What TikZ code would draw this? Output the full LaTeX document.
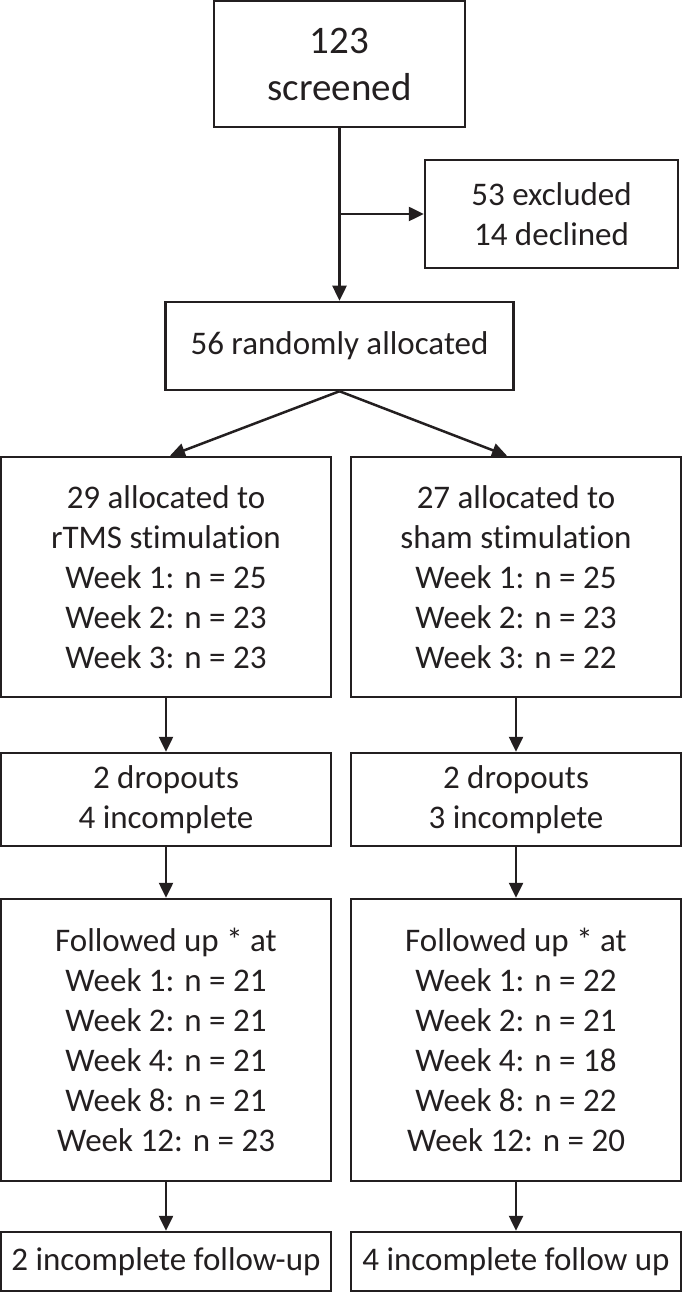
\documentclass[tikz,border=0pt]{standalone}
\usepackage{fontspec}
\setmainfont{Carlito}[Ligatures={NoCommon}]
\usetikzlibrary{positioning,arrows.meta}
\definecolor{ink}{HTML}{231F20}

\begin{document}
\begin{tikzpicture}[
x=0.5pt,y=-0.5pt,
box/.style={
  draw=ink,
  text=ink,
  line width=1.25pt,
  align=center,
  inner sep=0pt,
  font=\fontsize{16.5}{20}\selectfont
  },
big/.style={
  font=\fontsize{19.5}{23.5}\selectfont
  },
>={Triangle[length=7.5pt,width=7pt]}
]
\useasboundingbox (0,0) rectangle (685,1293);

% screening
\node[box,big,minimum width=125.5pt,minimum height=63pt] (screen) at (339.5,64) {123\\screened};
\node[box,minimum width=126.5pt,minimum height=54pt] (excl) at (551.5,214) {53 excluded\\14 declined};
\node[box,minimum width=174pt,minimum height=44pt] (alloc) at (339.5,346) {56 randomly allocated};

% arms
\node[box,minimum width=165pt,minimum height=120pt] (rtms) at (166,577)
  {29 allocated to\\rTMS stimulation\\Week 1: n = 25\\Week 2: n = 23\\Week 3: n = 23};
\node[box,minimum width=165pt,minimum height=120pt] (sham) at (516,577)
  {27 allocated to\\sham stimulation\\Week 1: n = 25\\Week 2: n = 23\\Week 3: n = 22};
\node[box,minimum width=165pt,minimum height=46.5pt] (dropL) at (166,799.5) {2 dropouts\\4 incomplete};
\node[box,minimum width=165pt,minimum height=46.5pt] (dropR) at (516,799.5) {2 dropouts\\3 incomplete};
\node[box,minimum width=165pt,minimum height=141pt] (followL) at (166,1040)
  {Followed up * at\\Week 1: n = 21\\Week 2: n = 21\\Week 4: n = 21\\Week 8: n = 21\\Week 12: n = 23};
\node[box,minimum width=165pt,minimum height=141pt] (followR) at (516,1040)
  {Followed up * at\\Week 1: n = 22\\Week 2: n = 21\\Week 4: n = 18\\Week 8: n = 22\\Week 12: n = 20};
\node[box,minimum width=165pt,minimum height=29.5pt] (lastL) at (166,1261.5) {2 incomplete follow-up};
\node[box,minimum width=165pt,minimum height=29.5pt] (lastR) at (516,1261.5) {4 incomplete follow up};

\begin{scope}[draw=ink,line width=1.25pt]
\draw[->] (screen.south) -- (screen.south |- alloc.north);
\draw[->] (screen.south |- excl.west) -- (excl.west);
\draw[->] (alloc.south) -- ([xshift=2pt]rtms.north);
\draw[->] (alloc.south) -- ([xshift=-4.5pt]sham.north);
\foreach \a/\b in {rtms/dropL,dropL/followL,followL/lastL,sham/dropR,dropR/followR,followR/lastR}
  \draw[->] (\a.south) -- (\b.north);
\end{scope}

\end{tikzpicture}
\end{document}
